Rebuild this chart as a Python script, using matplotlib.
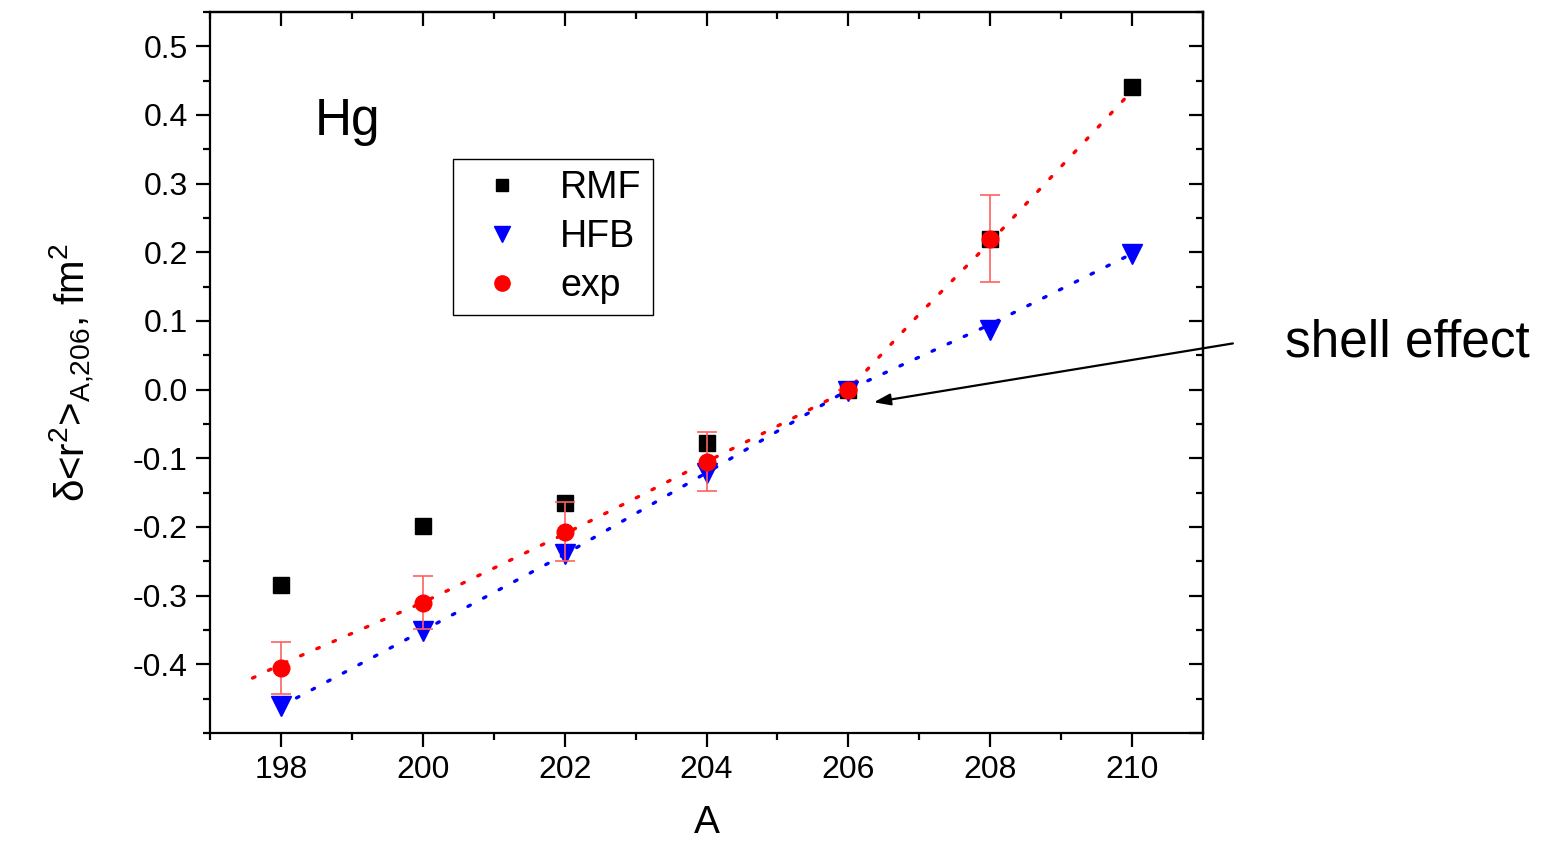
import numpy as np
import matplotlib
matplotlib.use('Agg')
import matplotlib.pyplot as plt
from matplotlib.ticker import MultipleLocator
from matplotlib.lines import Line2D

plt.rcParams['font.family'] = ['Liberation Sans', 'DejaVu Sans']
plt.rcParams['mathtext.fontset'] = 'custom'
plt.rcParams['mathtext.rm'] = 'Liberation Sans'
plt.rcParams['mathtext.default'] = 'regular'

# data
A = [198, 200, 202, 204, 206, 208, 210]
rmf = [-0.285, -0.198, -0.165, -0.077, 0.0, 0.22, 0.441]
hfb = [-0.461, -0.351, -0.239, -0.121, -0.002, 0.087, 0.198]
A_exp = [198, 200, 202, 204, 206, 208]
exp = [-0.405, -0.31, -0.207, -0.105, 0.0, 0.22]
exp_err = [0.038, 0.038, 0.043, 0.043, 0.0, 0.063]

# dotted guide curves
A_red = [197.6, 198, 199, 200, 201, 202, 203, 204, 205, 206, 207, 208, 209, 210]
y_red = [-0.42, -0.40, -0.355, -0.31, -0.26, -0.21, -0.158, -0.105, -0.053, 0.0, 0.11, 0.215, 0.325, 0.435]
A_blue = [198, 200, 202, 204, 206, 208, 210]
y_blue = [-0.461, -0.351, -0.24, -0.121, 0.0, 0.095, 0.198]

fig = plt.figure(figsize=(15.48, 8.43), dpi=100)
ax = fig.add_axes([210/1548, 1 - 733/843, 993/1548, 721/843])

ax.plot(A_red, y_red, color='red', ls=(0, (0.8, 4.5)), lw=2.4, dash_capstyle='round', zorder=1)
ax.plot(A_blue, y_blue, color='blue', ls=(0, (0.8, 4.5)), lw=2.4, dash_capstyle='round', zorder=1)

ax.plot(A, rmf, 's', color='black', ms=11, ls='none', zorder=3)
ax.plot(A, hfb, 'v', color='blue', ms=14, ls='none', zorder=4)
ax.errorbar(A_exp, exp, yerr=exp_err, fmt='o', color='red', ecolor='#ff6060',
            elinewidth=1.2, capsize=7, capthick=1.2, ms=12, zorder=5)

ax.set_xlim(197, 211)
ax.set_ylim(-0.5, 0.55)
ax.xaxis.set_minor_locator(MultipleLocator(1))
ax.yaxis.set_minor_locator(MultipleLocator(0.05))
ax.set_xticks([198, 200, 202, 204, 206, 208, 210])
ax.set_yticks([-0.4, -0.3, -0.2, -0.1, 0.0, 0.1, 0.2, 0.3, 0.4, 0.5])
ax.set_yticklabels(['-0.4', '-0.3', '-0.2', '-0.1', '0.0', '0.1', '0.2', '0.3', '0.4', '0.5'])

for s in ax.spines.values():
    s.set_linewidth(1.6)
ax.tick_params(which='both', direction='out', width=1.6, labelsize=23, pad=6)
ax.tick_params(which='major', length=10)
ax.tick_params(which='minor', length=5)
# mirrored ticks on top and right point inward
axt = ax.secondary_xaxis('top')
axt.xaxis.set_major_locator(MultipleLocator(2))
axt.xaxis.set_minor_locator(MultipleLocator(1))
axt.tick_params(which='both', direction='in', width=1.6, labeltop=False)
axt.tick_params(which='major', length=10)
axt.tick_params(which='minor', length=5)
axt.spines['top'].set_linewidth(1.6)
axr = ax.secondary_yaxis('right')
axr.yaxis.set_major_locator(MultipleLocator(0.1))
axr.yaxis.set_minor_locator(MultipleLocator(0.05))
axr.tick_params(which='both', direction='in', width=1.6, labelright=False)
axr.tick_params(which='major', length=10)
axr.tick_params(which='minor', length=5)
axr.spines['right'].set_linewidth(1.6)

ax.set_xlabel('A', fontsize=28, labelpad=14)
ax.set_ylabel(r'$\delta$<r$^2$>$_{A{,}206}$, fm$^2$', fontsize=29, labelpad=26)

ax.text(198.48, 0.39, 'Hg', fontsize=37, ha='left', va='center')

handles = [Line2D([], [], marker='s', color='black', ls='none', ms=9),
           Line2D([], [], marker='v', color='blue', ls='none', ms=12),
           Line2D([], [], marker='o', color='red', ls='none', ms=11)]
leg = ax.legend(handles, ['RMF', 'HFB', 'exp'], loc='upper left',
                bbox_to_anchor=(243/993, 1 - 147/721), borderaxespad=0, fontsize=27,
                frameon=True, fancybox=False, edgecolor='black', framealpha=1,
                handletextpad=0.55, borderpad=0.3, labelspacing=0.34, handlelength=2.0)
leg.get_frame().set_linewidth(1.0)

ax.annotate('', xy=(206.32, -0.019), xytext=(211.46, 0.068), annotation_clip=False,
            arrowprops=dict(arrowstyle='-|>,head_length=1.0,head_width=0.35', color='black', lw=1.6))
fig.text(1285/1548, 1 - 343/843, 'shell effect', fontsize=37, ha='left', va='center')

fig.savefig('out.png', dpi=100)
